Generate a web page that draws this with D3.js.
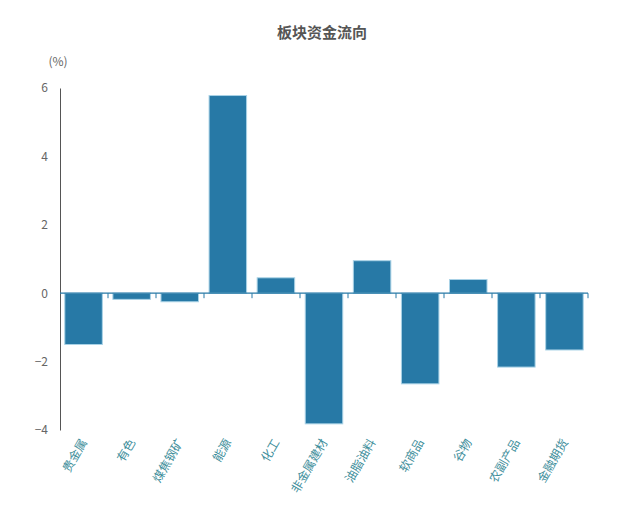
<!DOCTYPE html>
<html>
<head>
<meta charset="utf-8">
<script src="https://cdn.jsdelivr.net/npm/d3@7"></script>
<style>
  body { margin: 0; background: #fff; }
  text { font-family: "Noto Sans CJK SC", "Liberation Sans", sans-serif; }
</style>
</head>
<body>
<script>
var categories = ["贵金属", "有色", "煤焦钢矿", "能源", "化工", "非金属建材", "油脂油料", "软商品", "谷物", "农副产品", "金融期货"];
var values = [-1.5, -0.18, -0.25, 5.78, 0.45, -3.82, 0.95, -2.65, 0.4, -2.16, -1.66];
var yTicks = [-4, -2, 0, 2, 4, 6];

var width = 623, height = 510;
var mLeft = 60, mRight = 588, mTop = 88, mBottom = 430;

var svg = d3.select("body")
            .append("svg")
            .attr("width", width)
            .attr("height", height);

var x = d3.scaleBand()
          .domain(categories)
          .range([mLeft, mRight])
          .paddingInner(0.22)
          .paddingOuter(0.1);

var y = d3.scaleLinear()
          .domain([-4, 6])
          .range([mBottom, mTop]);

// title
svg.append("text")
   .attr("x", 322)
   .attr("y", 38)
   .attr("text-anchor", "middle")
   .attr("font-size", "15px")
   .attr("font-weight", "bold")
   .attr("fill", "#555")
   .text("板块资金流向");

svg.append("text")
   .attr("x", 58)
   .attr("y", 66)
   .attr("text-anchor", "middle")
   .attr("font-size", "12px")
   .attr("fill", "#666")
   .text("(%)");

// y axis
var yAxis = svg.append("g")
   .attr("transform", "translate(" + mLeft + ",0)")
   .call(d3.axisLeft(y).tickValues(yTicks).tickSize(0).tickPadding(12));
yAxis.select(".domain").attr("stroke", "#555");
yAxis.selectAll("text")
   .attr("font-size", "12px")
   .attr("fill", "#666");

// bars
svg.selectAll("rect.bar")
   .data(values)
   .enter()
   .append("rect")
   .attr("class", "bar")
   .attr("x", function(d, i) { return x(categories[i]); })
   .attr("y", function(d) { return y(Math.max(0, d)); })
   .attr("width", x.bandwidth())
   .attr("height", function(d) { return Math.abs(y(d) - y(0)); })
   .attr("fill", "#2779a6")
   .attr("stroke", "#a9d2e6")
   .attr("stroke-width", 1);

// x axis at zero with ticks at band edges
var xAxis = svg.append("g").attr("transform", "translate(0," + y(0) + ")");
xAxis.append("line")
   .attr("x1", mLeft).attr("x2", mRight)
   .attr("stroke", "#2779a6").attr("stroke-width", 1.2);
var edges = d3.range(1, categories.length + 1).map(function(i) { return mLeft + i * (mRight - mLeft) / categories.length; });
xAxis.selectAll("line.tick")
   .data(edges)
   .enter()
   .append("line")
   .attr("class", "tick")
   .attr("x1", function(d) { return d; })
   .attr("x2", function(d) { return d; })
   .attr("y1", 0).attr("y2", 5)
   .attr("stroke", "#2779a6");

// x labels
svg.selectAll("text.xlab")
   .data(categories)
   .enter()
   .append("text")
   .attr("class", "xlab")
   .attr("transform", function(d) {
        return "translate(" + (x(d) + x.bandwidth() / 2 + 4) + "," + 442 + ") rotate(-60)";
   })
   .attr("text-anchor", "end")
   .attr("font-size", "12px")
   .attr("fill", "#3f8f9c")
   .text(function(d) { return d; });
</script>
</body>
</html>
